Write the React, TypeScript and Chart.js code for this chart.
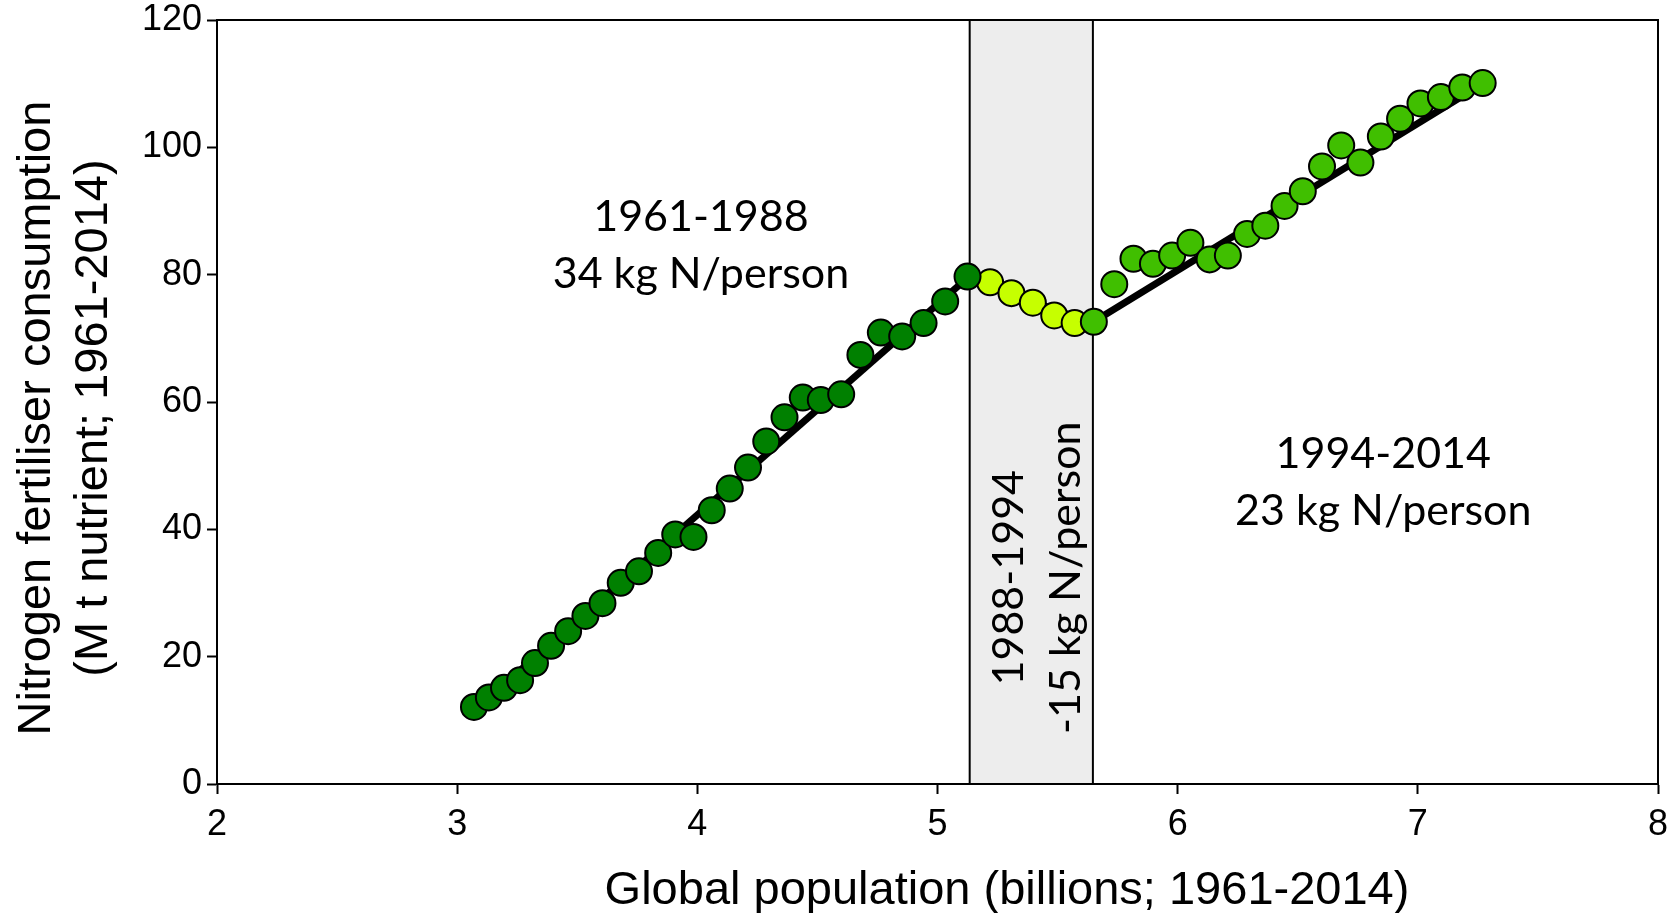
import React, { useEffect, useRef } from 'react';
import { Chart, registerables } from 'chart.js';

Chart.register(...registerables);

// Years 1961-2014
const years = [
  1961, 1962, 1963, 1964, 1965, 1966, 1967, 1968, 1969, 1970,
  1971, 1972, 1973, 1974, 1975, 1976, 1977, 1978, 1979, 1980,
  1981, 1982, 1983, 1984, 1985, 1986, 1987, 1988, 1989, 1990,
  1991, 1992, 1993, 1994, 1995, 1996, 1997, 1998, 1999, 2000,
  2001, 2002, 2003, 2004, 2005, 2006, 2007, 2008, 2009, 2010,
  2011, 2012, 2013, 2014,
];

// Global population (billions)
const population = [
  3.070, 3.132, 3.195, 3.262, 3.324, 3.391, 3.462, 3.534, 3.605, 3.681,
  3.757, 3.837, 3.908, 3.984, 4.060, 4.135, 4.211, 4.287, 4.363, 4.439,
  4.514, 4.599, 4.679, 4.764, 4.853, 4.942, 5.032, 5.125, 5.219, 5.308,
  5.397, 5.486, 5.571, 5.651, 5.736, 5.816, 5.897, 5.977, 6.053, 6.133,
  6.209, 6.289, 6.365, 6.445, 6.521, 6.601, 6.681, 6.761, 6.846, 6.926,
  7.011, 7.096, 7.185, 7.270,
];

// Nitrogen fertiliser consumption (Mt nutrient)
const nitrogen = [
  12.1, 13.6, 15.1, 16.3, 19.0, 21.7, 24.0, 26.4, 28.4, 31.6,
  33.4, 36.3, 39.2, 38.8, 43.0, 46.4, 49.7, 53.8, 57.6, 60.7,
  60.3, 61.2, 67.4, 70.9, 70.3, 72.4, 75.8, 79.7, 78.8, 77.1,
  75.6, 73.6, 72.4, 72.6, 78.5, 82.5, 81.7, 83.0, 85.0, 82.4,
  83.0, 86.4, 87.7, 90.8, 93.1, 97.0, 100.3, 97.6, 101.7, 104.5,
  106.9, 107.9, 109.4, 110.1,
];

// Regression lines for the three periods (x in billions, y in Mt)
const trendA_x = [3.07, 5.125];
const trendA_y = [11.5, 79.5];
const trendB_x = [5.125, 5.65];
const trendB_y = [79.5, 72.3];
const trendC_x = [5.65, 7.27];
const trendC_y = [72.6, 110.0];

// Shaded 1988-1994 band (population, billions)
const bandStart = 5.134;
const bandEnd = 5.647;

const xTicks = [2, 3, 4, 5, 6, 7, 8];
const yTicks = [0, 20, 40, 60, 80, 100, 120];

const labelA = ['1961-1988', '34 kg N/person'];
const labelB = ['1988-1994', '-15 kg N/person'];
const labelC = ['1994-2014', '23 kg N/person'];
const xTitle = 'Global population (billions; 1961-2014)';
const yTitle = ['Nitrogen fertiliser consumption', '(M t nutrient; 1961-2014)'];

function pointsFor(from: number, to: number) {
  const out: { x: number; y: number }[] = [];
  for (let i = 0; i < years.length; i++) {
    if (years[i] >= from && years[i] <= to) out.push({ x: population[i], y: nitrogen[i] });
  }
  return out;
}

function linePts(xs: number[], ys: number[]) {
  return xs.map((x, i) => ({ x, y: ys[i] }));
}

const ANN_FONT = '43px Lato, "Open Sans", sans-serif';
const TITLE_FONT = '47px "Liberation Sans", Arial, sans-serif';

const decorPlugin = {
  id: 'decor',
  beforeDatasetsDraw(chart: any) {
    const { ctx, chartArea, scales } = chart;
    const xs = scales.x;
    ctx.save();
    const x0 = xs.getPixelForValue(bandStart);
    const x1 = xs.getPixelForValue(bandEnd);
    ctx.fillStyle = '#ededed';
    ctx.fillRect(x0, chartArea.top, x1 - x0, chartArea.bottom - chartArea.top);
    ctx.strokeStyle = '#000';
    ctx.lineWidth = 2;
    ctx.strokeRect(x0, chartArea.top, x1 - x0, chartArea.bottom - chartArea.top);
    // frame top & right
    ctx.beginPath();
    ctx.moveTo(chartArea.left, chartArea.top);
    ctx.lineTo(chartArea.right, chartArea.top);
    ctx.lineTo(chartArea.right, chartArea.bottom);
    ctx.stroke();
    ctx.restore();
  },
  afterDraw(chart: any) {
    const { ctx, scales } = chart;
    const xs = scales.x;
    const ys = scales.y;
    ctx.save();
    ctx.fillStyle = '#000';
    ctx.font = ANN_FONT;
    ctx.textAlign = 'center';
    ctx.textBaseline = 'middle';
    const lh = 57;
    // period 1
    let cx = xs.getPixelForValue(4.015);
    let cy = ys.getPixelForValue(84.5);
    ctx.fillText(labelA[0], cx, cy - lh / 2);
    ctx.fillText(labelA[1], cx, cy + lh / 2);
    // period 3
    cx = xs.getPixelForValue(6.856);
    cy = ys.getPixelForValue(47.3);
    ctx.fillText(labelC[0], cx, cy - lh / 2);
    ctx.fillText(labelC[1], cx, cy + lh / 2);
    // period 2 (rotated)
    cx = xs.getPixelForValue(5.418);
    cy = ys.getPixelForValue(32.4);
    ctx.save();
    ctx.translate(cx, cy);
    ctx.rotate(-Math.PI / 2);
    ctx.fillText(labelB[0], 0, -lh / 2);
    ctx.fillText(labelB[1], 0, lh / 2);
    ctx.restore();

    // axis titles
    ctx.font = TITLE_FONT;
    ctx.textBaseline = 'alphabetic';
    ctx.fillText(xTitle, 1007, 904);
    ctx.save();
    ctx.translate(50, 418);
    ctx.rotate(-Math.PI / 2);
    ctx.fillText(yTitle[0], 0, 0);
    ctx.fillText(yTitle[1], 0, 57);
    ctx.restore();
    ctx.restore();
  },
};

export default function App() {
  const ref = useRef<HTMLCanvasElement | null>(null);
  useEffect(() => {
    if (!ref.current) return;
    const pointStyle = {
      pointRadius: 13,
      pointHoverRadius: 13,
      borderColor: '#000',
      borderWidth: 2,
      pointBorderWidth: 2,
      showLine: false,
    };
    const lineStyle = {
      borderColor: '#000',
      borderWidth: 7,
      pointRadius: 0,
      showLine: true,
      fill: false,
      order: 2,
    };
    const chart = new Chart(ref.current, {
      type: 'scatter',
      data: {
        datasets: [
          { label: 'trend 1961-1988', data: linePts(trendA_x, trendA_y), ...lineStyle },
          { label: 'trend 1988-1994', data: linePts(trendB_x, trendB_y), ...lineStyle },
          { label: 'trend 1994-2014', data: linePts(trendC_x, trendC_y), ...lineStyle },
          { label: '1961-1988', data: pointsFor(1961, 1988), backgroundColor: '#008000', pointBackgroundColor: '#008000', order: 1, ...pointStyle },
          { label: '1989-1993', data: pointsFor(1989, 1993), backgroundColor: '#c6ff00', pointBackgroundColor: '#c6ff00', order: 1, ...pointStyle },
          { label: '1994-2014', data: pointsFor(1994, 2014), backgroundColor: '#40bf00', pointBackgroundColor: '#40bf00', order: 0, ...pointStyle },
        ] as any,
      },
      options: {
        responsive: false,
        animation: false,
        devicePixelRatio: 1,
        layout: { padding: { top: 20, right: 20, left: 0, bottom: 0 } },
        plugins: { legend: { display: false }, tooltip: { enabled: false }, title: { display: false } },
        scales: {
          x: {
            type: 'linear',
            min: 2,
            max: 8,
            afterBuildTicks: (s: any) => { s.ticks = xTicks.map((v) => ({ value: v })); },
            afterFit: (s: any) => { s.height = 129; s.paddingLeft = 0; s.paddingRight = 0; },
            ticks: {
              color: '#000',
              font: { family: '"Liberation Sans", Arial, sans-serif', size: 36 },
              padding: 9,
              maxRotation: 0,
            },
            grid: { drawOnChartArea: false, drawTicks: true, tickLength: 10, color: '#000', tickWidth: 2 },
            border: { display: true, color: '#000', width: 2 },
          },
          y: {
            type: 'linear',
            min: 0,
            max: 120,
            afterBuildTicks: (s: any) => { s.ticks = yTicks.map((v) => ({ value: v })); },
            afterFit: (s: any) => { s.width = 217; s.paddingTop = 0; s.paddingBottom = 0; },
            ticks: {
              color: '#000',
              font: { family: '"Liberation Sans", Arial, sans-serif', size: 36 },
              padding: 5,
            },
            grid: { drawOnChartArea: false, drawTicks: true, tickLength: 10, color: '#000', tickWidth: 2 },
            border: { display: true, color: '#000', width: 2 },
          },
        },
      },
      plugins: [decorPlugin],
    } as any);
    return () => chart.destroy();
  }, []);
  return (
    <div style={{ position: 'absolute', left: 0, top: 0, width: 1678, height: 913, background: '#fff' }}>
      <canvas ref={ref} width={1678} height={913} style={{ display: 'block' }} />
    </div>
  );
}
